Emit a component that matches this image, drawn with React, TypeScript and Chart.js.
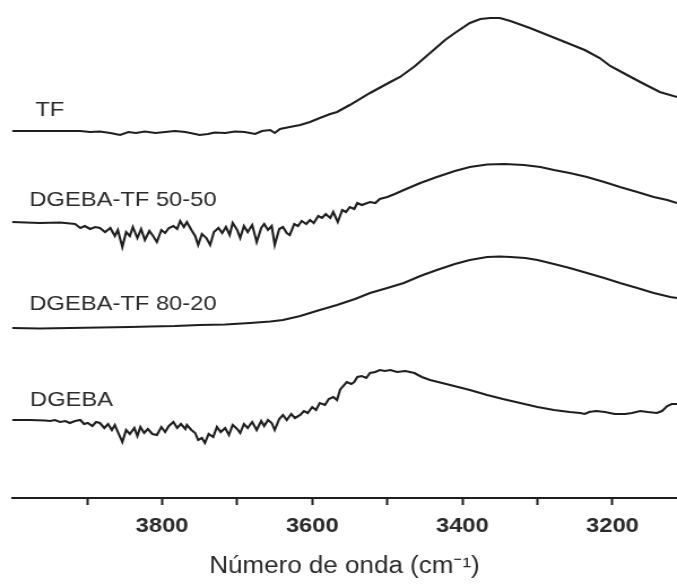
import React, { useEffect, useRef } from "react";
import { Chart, registerables } from "chart.js";

Chart.register(...registerables);

// Wavenumbers (cm-1) and offset intensities (a.u.)
const tfWn = [4000,3963,3909,3896,3883,3869,3856,3845,3835,3823,3809,3796,3783,3769,3756,3750,3739,3730,3716,3703,3690,3676,3667,3656,3650,3643,3630,3616,3603,3590,3576,3567,3550,3523,3496,3483,3463,3443,3423,3410,3390,3376,3363,3350,3336,3310,3290,3270,3237,3217,3203,3183,3163,3137,3114];
const tfVal = [73.4,73.4,73.4,73.2,73.3,73.0,72.6,73.2,73.0,73.3,73.0,73.2,73.4,73.2,72.8,72.6,72.8,73.1,73.0,73.3,73.2,72.8,73.4,73.6,73.0,73.8,74.2,74.6,75.2,76.0,76.8,77.2,78.6,81.0,83.2,84.2,86.4,89.0,91.6,93.0,95.0,95.8,96.0,96.0,95.4,94.0,92.8,91.6,89.6,88.0,86.4,84.8,83.2,81.2,80.2];

const mix5050Wn = [4000,3963,3936,3916,3909,3903,3896,3889,3883,3876,3869,3863,3859,3853,3848,3843,3839,3833,3828,3823,3817,3812,3807,3801,3796,3791,3785,3780,3776,3771,3767,3761,3756,3752,3747,3741,3736,3731,3725,3720,3715,3710,3706,3700,3696,3691,3686,3680,3674,3668,3664,3659,3654,3650,3644,3639,3634,3630,3624,3619,3614,3608,3603,3598,3592,3587,3582,3576,3572,3566,3560,3555,3550,3544,3540,3534,3523,3516,3510,3500,3490,3478,3456,3434,3410,3390,3367,3344,3318,3296,3278,3257,3234,3211,3190,3167,3145,3127,3114];
const mix5050Val = [55.2,55.0,55.1,54.8,54.0,54.4,53.8,54.2,54.0,53.2,54.0,52.4,53.6,50.2,53.2,52.4,54.2,52.0,53.8,51.6,53.4,52.4,51.2,53.6,53.0,54.0,54.4,53.8,55.4,54.2,55.2,53.6,52.4,50.6,52.8,52.0,50.6,53.2,54.0,53.0,54.2,52.6,55.0,53.6,52.0,54.4,53.2,54.6,51.2,54.0,54.8,53.6,54.4,50.6,53.8,54.2,53.0,52.6,54.8,54.4,55.4,54.8,55.6,55.0,56.4,56.0,56.8,56.0,57.2,55.2,57.6,57.2,58.2,57.8,59.0,58.6,59.2,59.0,59.8,60.2,60.8,61.6,63.0,64.2,65.4,66.2,66.7,66.8,66.6,66.2,65.6,65.0,64.2,63.2,62.2,61.2,60.2,59.6,59.0];

const mix8020Wn = [4000,3963,3923,3883,3843,3816,3783,3750,3716,3683,3656,3639,3616,3590,3567,3543,3523,3500,3478,3456,3434,3410,3390,3367,3350,3336,3316,3300,3278,3257,3234,3211,3190,3167,3145,3123,3114];
const mix8020Val = [34.0,33.9,34.0,34.1,34.2,34.3,34.4,34.6,34.7,35.0,35.3,35.6,36.4,37.6,38.6,39.8,41.0,42.0,43.0,44.4,45.6,46.8,47.6,48.2,48.3,48.2,48.0,47.6,46.8,46.0,45.0,44.0,43.0,42.0,41.0,40.2,40.0];

const dgebaWn = [4000,3976,3956,3949,3943,3936,3929,3923,3916,3909,3904,3899,3893,3888,3883,3877,3872,3867,3863,3859,3853,3848,3843,3837,3833,3829,3824,3819,3813,3807,3801,3796,3791,3785,3780,3775,3769,3767,3761,3756,3752,3747,3743,3738,3732,3727,3722,3716,3711,3706,3700,3696,3691,3686,3680,3674,3668,3664,3659,3654,3650,3644,3639,3634,3628,3623,3616,3611,3606,3600,3595,3590,3583,3578,3572,3567,3563,3560,3554,3548,3544,3540,3534,3528,3523,3516,3510,3503,3496,3487,3476,3464,3454,3443,3427,3411,3390,3367,3346,3323,3300,3278,3257,3243,3237,3231,3222,3210,3197,3183,3174,3163,3153,3141,3134,3127,3121,3114];
const dgebaVal = [15.6,15.6,15.5,15.4,15.6,15.2,15.4,15.0,15.4,15.6,14.8,15.0,14.4,15.2,15.0,14.0,14.8,13.6,14.6,13.2,11.2,13.6,12.8,14.0,12.4,14.2,13.0,13.8,12.8,12.6,14.2,13.2,14.4,15.2,14.0,14.8,13.8,14.6,13.6,13.0,11.6,12.0,11.0,12.8,12.2,14.2,13.2,14.0,12.6,14.6,13.8,13.0,14.8,14.0,15.2,13.6,15.4,14.4,15.6,15.0,13.6,15.8,16.6,15.6,16.8,16.0,16.6,17.4,17.0,18.2,17.6,19.0,18.6,19.8,20.2,19.6,21.6,22.2,23.2,22.8,23.2,24.2,24.4,24.0,25.0,25.2,25.6,25.4,25.6,25.2,25.4,25.0,24.2,23.6,23.0,22.4,21.6,20.6,19.8,19.0,18.2,17.6,17.2,17.0,16.8,17.2,17.4,17.2,16.8,16.8,17.0,17.4,17.2,17.0,17.4,18.4,18.8,18.8];

// Curve labels: text, wavenumber of left edge, vertical position (a.u.)
const labelText = ["TF", "DGEBA-TF 50-50", "DGEBA-TF 80-20", "DGEBA"];
const labelWn = [3969, 3977, 3977, 3976];
const labelVal = [77.6, 59.6, 38.8, 19.6];

// Axis
const tickValues = [3900, 3800, 3700, 3600, 3500, 3400, 3300, 3200];
const labelledTicks = [3800, 3600, 3400, 3200];
const xMax = 4000;
const xMin = 3114;
const xTitle = "Número de onda (cm⁻¹)";

// The source figure is horizontally stretched; render narrower and stretch.
const STRETCH = 1.13;
const OUT_W = 677;
const OUT_H = 585;
const INNER_W = Math.round(OUT_W / STRETCH);

const FONT = "'Liberation Sans', Arial, Helvetica, sans-serif";
const INK = "#1e1e1e";
const TEXT = "#2a2a2a";

function toPoints(xs: number[], ys: number[]) {
  return xs.map((x, i) => ({ x, y: ys[i] }));
}

const curveLabels = {
  id: "curveLabels",
  afterDatasetsDraw(chart: any) {
    const { ctx, scales } = chart;
    ctx.save();
    ctx.fillStyle = TEXT;
    ctx.font = `21px ${FONT}`;
    ctx.textAlign = "left";
    ctx.textBaseline = "middle";
    labelText.forEach((t, i) => {
      const x = scales.x.getPixelForValue(labelWn[i]);
      const y = scales.y.getPixelForValue(labelVal[i]);
      ctx.fillText(t, x, y);
    });
    ctx.restore();
  },
};

export default function App() {
  const ref = useRef<HTMLCanvasElement | null>(null);

  useEffect(() => {
    if (!ref.current) return;
    const mk = (label: string, xs: number[], ys: number[]) => ({
      label,
      data: toPoints(xs, ys),
      borderColor: INK,
      borderWidth: 2.1,
      pointRadius: 0,
      tension: 0,
      fill: false,
    });
    const chart = new Chart(ref.current, {
      type: "line",
      data: {
        datasets: [
          mk("TF", tfWn, tfVal),
          mk("DGEBA-TF 50-50", mix5050Wn, mix5050Val),
          mk("DGEBA-TF 80-20", mix8020Wn, mix8020Val),
          mk("DGEBA", dgebaWn, dgebaVal),
        ],
      },
      options: {
        animation: false,
        responsive: false,
        maintainAspectRatio: false,
        layout: { padding: { left: 12 / STRETCH, right: 0, top: 0, bottom: 0 } },
        plugins: {
          legend: { display: false },
          tooltip: { enabled: false },
        },
        scales: {
          x: {
            type: "linear",
            reverse: true,
            min: xMin,
            max: xMax,
            afterBuildTicks: (scale: any) => {
              scale.ticks = tickValues.map((v) => ({ value: v }));
            },
            afterFit: (scale: any) => {
              scale.height = 87;
            },
            grid: {
              display: true,
              drawOnChartArea: false,
              drawTicks: true,
              tickLength: 7,
              tickWidth: 2,
              tickColor: INK,
            },
            border: { display: true, color: INK, width: 2 },
            ticks: {
              autoSkip: false,
              maxRotation: 0,
              padding: 9,
              color: TEXT,
              font: { family: FONT, size: 21, weight: "bold" },
              callback: (v: any) => (labelledTicks.includes(Number(v)) ? String(v) : ""),
            },
            title: {
              display: true,
              text: xTitle,
              color: TEXT,
              font: { family: FONT, size: 23 },
              padding: { top: 0, bottom: 5 },
            },
          },
          y: {
            display: false,
            min: 0,
            max: 99.6,
          },
        },
      },
      plugins: [curveLabels],
    });
    return () => chart.destroy();
  }, []);

  return (
    <div
      style={{
        position: "fixed",
        left: 0,
        top: 0,
        width: OUT_W,
        height: OUT_H,
        overflow: "hidden",
        background: "#fff",
      }}
    >
      <canvas
        ref={ref}
        width={INNER_W}
        height={OUT_H}
        style={{ display: "block", transform: `scaleX(${OUT_W / INNER_W})`, transformOrigin: "0 0" }}
      />
    </div>
  );
}
